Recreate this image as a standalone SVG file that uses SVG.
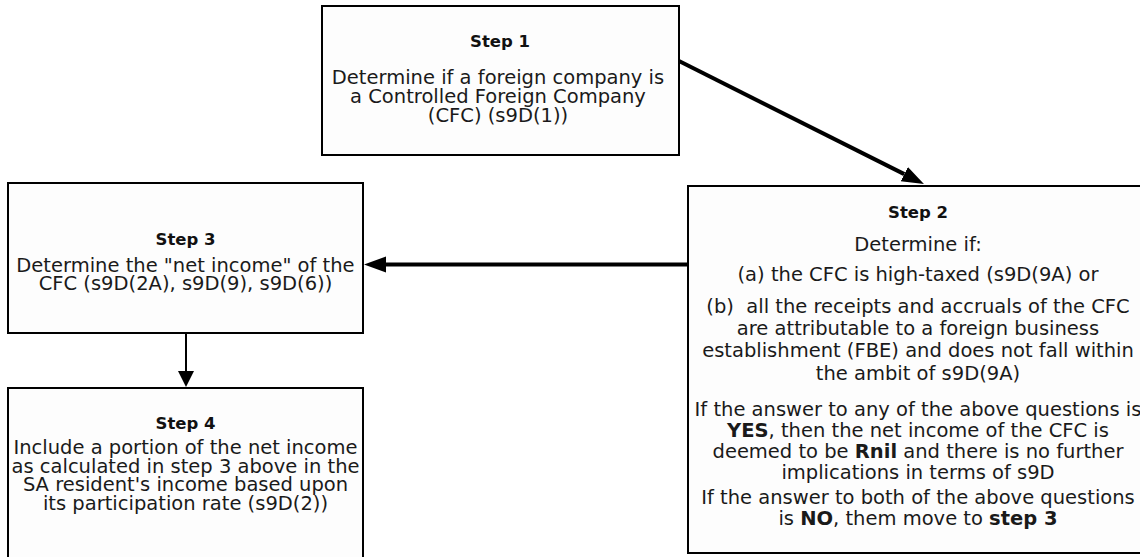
<svg xmlns="http://www.w3.org/2000/svg" width="1140" height="557" viewBox="0 0 1140 557">
<style>
.box{fill:#fdfdfd;stroke:#000;stroke-width:2}
.t{font-family:"DejaVu Sans","Open Sans",sans-serif;font-size:19.5px;fill:#1a1a1a;text-anchor:middle}
.h{font-family:"DejaVu Sans","Open Sans",sans-serif;font-size:16.5px;font-weight:bold;fill:#111;text-anchor:middle}
.b{font-weight:bold}
.c{fill:none;stroke:#000}
</style>
<defs>
<marker id="ah" markerUnits="userSpaceOnUse" markerWidth="24" markerHeight="20" refX="0" refY="9" orient="auto" viewBox="0 0 24 20">
<path d="M0,1 L22,9 L0,17 z" fill="#000"/>
</marker>
<marker id="ah2" markerUnits="userSpaceOnUse" markerWidth="18" markerHeight="18" refX="0" refY="8" orient="auto" viewBox="0 0 18 18">
<path d="M0,0 L16,8 L0,16 z" fill="#000"/>
</marker>
</defs>
<g id="connectors">
<path class="c" d="M679,61 L904.3,174.1" stroke-width="4" marker-end="url(#ah)"/>
<path class="c" d="M688,264.5 L386,264.5" stroke-width="4" marker-end="url(#ah)"/>
<path class="c" d="M186,333 L186,371" stroke-width="2" marker-end="url(#ah2)"/>
</g>
<g id="step1">
<rect class="box" x="322" y="6" width="357" height="149"/>
<text class="h" x="500" y="47">Step 1</text>
<text class="t" x="498" y="84">Determine if a foreign company is</text>
<text class="t" x="498" y="103">a Controlled Foreign Company</text>
<text class="t" x="498" y="122">(CFC) (s9D(1))</text>
</g>
<g id="step2">
<rect class="box" x="688" y="186" width="462" height="367"/>
<text class="h" x="918" y="218">Step 2</text>
<text class="t" x="918" y="251">Determine if:</text>
<text class="t" x="918" y="281">(a) the CFC is high-taxed (s9D(9A) or</text>
<text class="t" x="918" y="313" xml:space="preserve">(b)  all the receipts and accruals of the CFC</text>
<text class="t" x="918" y="335">are attributable to a foreign business</text>
<text class="t" x="918" y="357">establishment (FBE) and does not fall within</text>
<text class="t" x="918" y="380">the ambit of s9D(9A)</text>
<text class="t" x="918" y="416">If the answer to any of the above questions is</text>
<text class="t" x="918" y="437"><tspan class="b">YES</tspan>, then the net income of the CFC is</text>
<text class="t" x="918" y="458">deemed to be <tspan class="b">Rnil</tspan> and there is no further</text>
<text class="t" x="918" y="479">implications in terms of s9D</text>
<text class="t" x="918" y="504">If the answer to both of the above questions</text>
<text class="t" x="918" y="525">is <tspan class="b">NO</tspan>, them move to <tspan class="b">step 3</tspan></text>
</g>
<g id="step3">
<rect class="box" x="8" y="183" width="355" height="150"/>
<text class="h" x="185.5" y="245">Step 3</text>
<text class="t" x="185.5" y="272">Determine the "net income" of the</text>
<text class="t" x="185.5" y="290">CFC (s9D(2A), s9D(9), s9D(6))</text>
</g>
<g id="step4">
<rect class="box" x="8" y="388" width="355" height="180"/>
<text class="h" x="185.5" y="429">Step 4</text>
<text class="t" x="185.5" y="454">Include a portion of the net income</text>
<text class="t" x="185.5" y="472.5">as calculated in step 3 above in the</text>
<text class="t" x="185.5" y="491">SA resident's income based upon</text>
<text class="t" x="185.5" y="509.5">its participation rate (s9D(2))</text>
</g>
</svg>
